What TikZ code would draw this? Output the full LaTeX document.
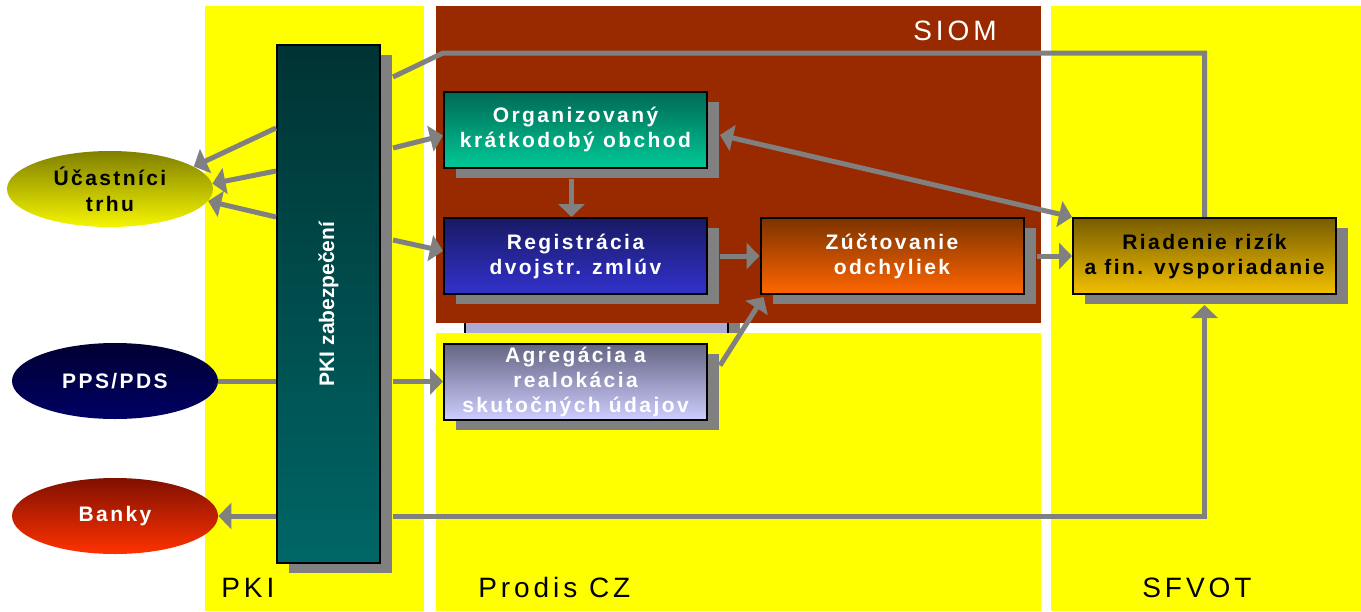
\documentclass[tikz,border=0pt]{standalone}
\usepackage{fontspec}
\setmainfont{Liberation Sans}
\newfontfamily\lsfont[LetterSpace=11.5]{Liberation Sans}
\newfontfamily\lbfont[LetterSpace=14]{Liberation Sans}
\usetikzlibrary{shapes.geometric,arrows.meta,calc}
\definecolor{ylw}{RGB}{255,255,0}
\definecolor{brn}{RGB}{153,42,0}
\definecolor{shd}{RGB}{128,128,128}
\definecolor{hidc}{RGB}{170,170,210}
\begin{document}
\begin{tikzpicture}[x=0.5pt,y=-0.5pt,
  shadowed/.style={preaction={fill=shd,transform canvas={shift={(6pt,-5pt)}}}},
  box/.style={shadowed,rectangle,draw=black,line width=1pt,minimum width=131.5pt,minimum height=38pt,inner sep=0pt,align=center,font=\lsfont\bfseries\fontsize{10.5}{12.5}\selectfont,text=white},
  ell/.style={ellipse,minimum width=103pt,minimum height=38pt,inner sep=0pt,align=center,font=\lsfont\bfseries\fontsize{10.5}{13}\selectfont},
  conn/.style={draw=shd,line width=2.5pt},
  arr/.style={conn,-{Triangle[length=6.5pt,width=13pt]}},
  lbl/.style={font=\lbfont\fontsize{14}{16}\selectfont,anchor=base west,inner sep=0pt}]
\useasboundingbox (0,0) rectangle (1361,611);
% hidden box behind regions
\node[box,fill=hidc,minimum height=38pt] (hid) at (596.5,340) {};
% regions
\fill[ylw] (205,6) rectangle (424,611);
\fill[brn] (436,6) rectangle (1041,323);
\fill[ylw] (436,333) rectangle (1041,611);
\fill[ylw] (1051,6) rectangle (1361,611);
% labels
\node[lbl,text=white] (siom) at (913,40) {SIOM};
\node[lbl] (pkil) at (221,597) {PKI};
\node[lbl] (prodis) at (478,597) {Prodis CZ};
\node[lbl] (sfvot) at (1142,597) {SFVOT};
% PKI column
\node[shadowed,rectangle,draw=black,line width=1pt,minimum width=51.5pt,minimum height=259pt,inner sep=0pt,
      top color={rgb,255:red,0;green,51;blue,51},bottom color={rgb,255:red,0;green,102;blue,102},
      text=white,font=\bfseries\fontsize{10.5}{12}\selectfont] (pki) at (328.5,304) {\rotatebox{90}{PKI zabezpečení}};
% boxes
\node[box,top color={rgb,255:red,0;green,105;blue,85},bottom color={rgb,255:red,0;green,200;blue,150}] (org) at (575.5,129.5) {Organizovaný\\krátkodobý obchod};
\node[box,top color={rgb,255:red,25;green,25;blue,100},bottom color={rgb,255:red,50;green,50;blue,205}] (reg) at (575.5,256) {Registrácia\\dvojstr. zmlúv};
\node[box,top color={rgb,255:red,100;green,100;blue,130},bottom color={rgb,255:red,205;green,205;blue,255}] (agr) at (575.5,381.5) {Agregácia a\\realokácia\\skutočných údajov};
\node[box,top color={rgb,255:red,125;green,50;blue,0},bottom color={rgb,255:red,255;green,102;blue,0}] (zuc) at (892,256) {Zúčtovanie\\odchyliek};
\node[box,text=black,top color={rgb,255:red,120;green,92;blue,0},bottom color={rgb,255:red,242;green,192;blue,0}] (ria) at (1204.5,256) {Riadenie rizík\\a fin. vysporiadanie};
% ellipses
\node[ell,top color={rgb,255:red,128;green,128;blue,0},bottom color={rgb,255:red,245;green,245;blue,0}] (ucast) at (110,189) {Účastníci\\trhu};
\node[ell,text=white,top color={rgb,255:red,0;green,0;blue,50},bottom color={rgb,255:red,0;green,0;blue,100}] (pps) at (115,381) {PPS/PDS};
\node[ell,text=white,top color={rgb,255:red,128;green,16;blue,0},bottom color={rgb,255:red,255;green,50;blue,0}] (banky) at (115,516) {Banky};
% connectors
\coordinate (pkis) at ([xshift=6pt]pki.east);
\draw[arr] (pki.west |- 0,128) -- (ucast.15);
\draw[arr] (pki.west |- 0,171) -- (ucast.3);
\draw[arr] (pki.west |- 0,217) -- (ucast.-7);
\draw[conn] (pkis |- 0,77) -- (org.west |- 0,53) -- (ria.north |- 0,53) -- (ria.north);
\draw[arr] (pkis |- 0,148) -- ([yshift=-3pt]org.west);
\draw[arr] (pkis |- 0,240) -- ([yshift=2.5pt]reg.west);
\draw[conn] (pps.east) -- (pki.west |- pps.east);
\draw[arr] (pkis |- agr.west) -- (agr.west);
\draw[arr] (pki.west |- banky.east) -- (banky.east);
\draw[arr] (pkis |- banky.east) -| ([yshift=-5pt]ria.south);
\draw[arr] ([shift={(-2pt,-5pt)}]org.south) -- ([xshift=-2pt]reg.north);
\draw[arr] ([xshift=6pt]reg.east) -- (zuc.west);
\draw[arr] ([xshift=6pt]zuc.east) -- (ria.west);
\draw[arr] ([shift={(6pt,8pt)}]agr.east) -- ([shift={(2pt,-1pt)}]zuc.south west);
\draw[conn,{Triangle[length=6.5pt,width=13pt]}-{Triangle[length=6.5pt,width=13pt]}] ([shift={(6pt,-2.75pt)}]org.east) -- (ria.north west);
\end{tikzpicture}
\end{document}
